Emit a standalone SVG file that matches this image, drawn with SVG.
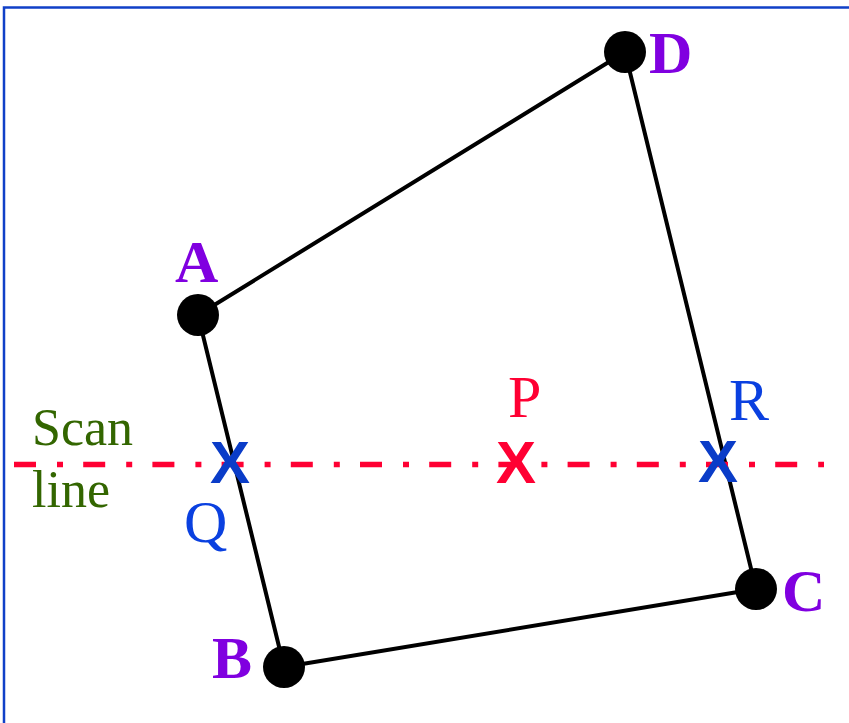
<svg xmlns="http://www.w3.org/2000/svg" width="849" height="723" viewBox="0 0 849 723">
<style>
.edge{stroke:#000;stroke-width:4;fill:none;stroke-linecap:round}
.dot{fill:#000}
.lbl{font-family:"Liberation Serif",serif;font-weight:bold;font-size:60px;fill:#8000E0}
.pt{font-family:"Liberation Serif",serif;font-size:60px}
.x{font-family:"Liberation Sans",sans-serif;font-weight:bold;font-size:60px}
.scan{font-family:"Liberation Serif",serif;font-size:52px;fill:#336600}
</style>
<rect x="4" y="7.5" width="900" height="800" fill="#fff" stroke="#1040C8" stroke-width="2.5"/>
<g id="connectors">
<line class="edge" x1="198" y1="315" x2="625" y2="52"/>
<line class="edge" x1="625" y1="52" x2="756" y2="589"/>
<line class="edge" x1="756" y1="589" x2="284" y2="667"/>
<line class="edge" x1="284" y1="667" x2="198" y2="315"/>
</g>
<g id="scanline">
<line x1="14" y1="464.5" x2="824" y2="464.5" stroke="#FF0033" stroke-width="5.5" stroke-dasharray="22 21 6 20.2"/>
<text class="scan" x="32" y="445">Scan</text>
<text class="scan" x="32" y="507">line</text>
</g>
<g id="A"><circle class="dot" cx="198" cy="315" r="21"/><text class="lbl" x="175" y="282">A</text></g>
<g id="B"><circle class="dot" cx="284" cy="667" r="21"/><text class="lbl" x="212" y="678">B</text></g>
<g id="C"><circle class="dot" cx="756" cy="589" r="21"/><text class="lbl" x="782" y="611">C</text></g>
<g id="D"><circle class="dot" cx="625" cy="52" r="21"/><text class="lbl" x="649" y="73">D</text></g>
<g id="Q"><text class="x" x="210" y="483" fill="#0A3CC8">X</text><text class="pt" x="184" y="542" fill="#0A40E0">Q</text></g>
<g id="P"><text class="x" x="496" y="483" fill="#FF0033">X</text><text class="pt" x="508" y="417" fill="#FF0033">P</text></g>
<g id="R"><text class="x" x="698" y="482" fill="#0A3CC8">X</text><text class="pt" x="729" y="420" fill="#0A40E0">R</text></g>
</svg>
